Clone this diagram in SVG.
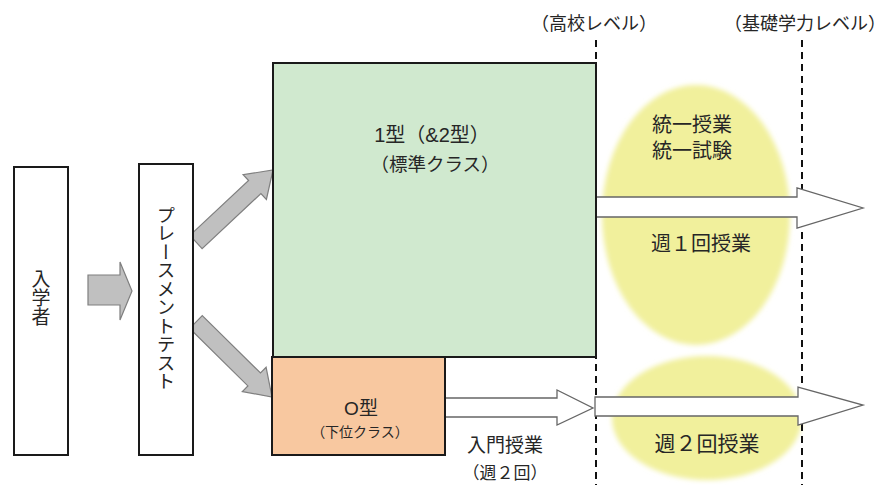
<svg xmlns="http://www.w3.org/2000/svg" width="886" height="485" viewBox="0 0 886 485">
<defs>
<style>
.t{font-family:"Liberation Sans","Noto Sans CJK JP",sans-serif;fill:#262626;text-anchor:middle}
.v{writing-mode:vertical-rl;font-family:"Noto Sans CJK JP",sans-serif;fill:#262626;text-anchor:middle}
.box{stroke:#1a1a1a;stroke-width:2}
.ga{fill:#c0c0c0;stroke:#7f7f7f;stroke-width:1.2}
.wa{fill:#fff;stroke:#666;stroke-width:1.3}
.dash{stroke:#111;stroke-width:2;stroke-dasharray:7 5;fill:none}
.ell{fill:#f1f09c;filter:url(#soft)}
</style>
<filter id="soft" x="-10%" y="-10%" width="120%" height="120%"><feGaussianBlur stdDeviation="2.5"/></filter>
</defs>
<rect width="886" height="485" fill="#fff"/>

<g id="levels">
<text class="t" x="594" y="30" font-size="18">（高校レベル）</text>
<text class="t" x="805" y="30" font-size="18">（基礎学力レベル）</text>
</g>

<g id="zones">
<ellipse class="ell" cx="696" cy="215" rx="94" ry="130"/>
<ellipse class="ell" cx="707" cy="418" rx="95" ry="62"/>
</g>

<g id="connectors">
<line class="dash" x1="596" y1="40" x2="596" y2="485"/>
<line class="dash" x1="802" y1="40" x2="802" y2="485"/>
<polygon class="ga" points="88,275 120,275 120,262 132,291 120,320 120,305 88,305"/>
<polygon class="ga" points="189.9,235.4 248.6,180.5 243.1,174.7 273,170 266.4,199.5 260.9,193.6 202.1,248.6"/>
<polygon class="ga" points="202.3,315.6 260.5,373 266.1,367.3 272,397 242.3,391.6 247.9,385.9 189.7,328.4"/>
<polygon class="wa" points="595,197 797,197 797,188 863,208 797,228 797,217 595,217"/>
<polygon class="wa" points="445,398 557,398 557,390 593,408 557,425 557,417 445,417"/>
<polygon class="wa" points="595,397 798,397 798,387 863,405 798,425 798,416 595,416"/>
</g>

<g id="nyugakusha">
<rect class="box" x="14" y="167" width="54" height="288" fill="#fff"/>
<text class="v" x="41" y="298" font-size="19">入学者</text>
</g>

<g id="placement">
<rect class="box" x="139" y="164" width="54" height="291" fill="#fff"/>
<text class="v" x="166" y="298" font-size="18.5">プレースメントテスト</text>
</g>

<g id="type1">
<rect class="box" x="273" y="63" width="323" height="294" fill="#d0e9cf"/>
<text class="t" x="432" y="142" font-size="20">1型（&amp;2型）</text>
<text class="t" x="435" y="171" font-size="18.5">（標準クラス）</text>
</g>

<g id="type0">
<rect class="box" x="272" y="357" width="173" height="98" fill="#f8c8a0"/>
<text class="t" x="361" y="415" font-size="19">O型</text>
<text class="t" x="360" y="437" font-size="14">（下位クラス）</text>
</g>

<g id="labels">
<text class="t" x="505" y="452" font-size="19">入門授業</text>
<text class="t" x="505" y="479" font-size="17">（週２回）</text>
<text class="t" x="692" y="132" font-size="20">統一授業</text>
<text class="t" x="692" y="158" font-size="20">統一試験</text>
<text class="t" x="701" y="251" font-size="20">週１回授業</text>
<text class="t" x="707" y="451" font-size="21">週２回授業</text>
</g>
</svg>
